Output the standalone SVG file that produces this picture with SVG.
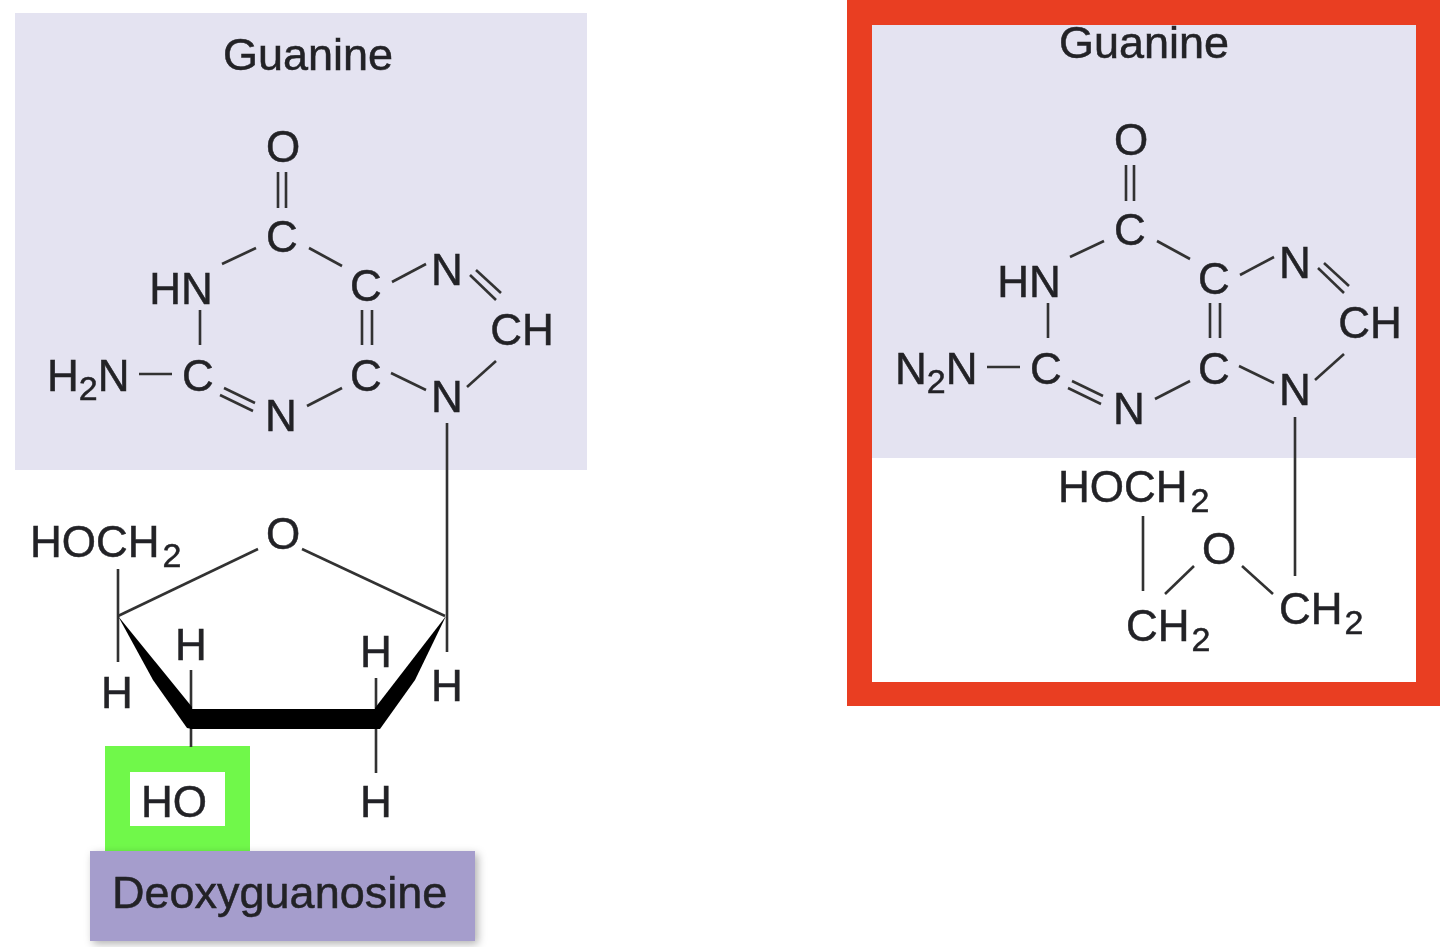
<svg xmlns="http://www.w3.org/2000/svg" width="1440" height="947" viewBox="0 0 1440 947">
<style>
text{font-family:"Liberation Sans",Arial,sans-serif;font-size:44px;fill:#222226;stroke:#222226;stroke-width:0.5;text-anchor:middle}
.s{font-size:34px}
.st{text-anchor:start}
.b line{stroke:#333;stroke-width:2.6;stroke-linecap:butt}
.panel{fill:#e4e3f1}
</style>
<defs>
<filter id="soft" x="-5%" y="-5%" width="110%" height="110%"><feGaussianBlur stdDeviation="0.7"/></filter>
<filter id="shadow" x="-5%" y="-15%" width="112%" height="135%"><feDropShadow dx="3" dy="3" stdDeviation="4" flood-color="#000" flood-opacity="0.3"/></filter>
<g id="ringbonds" class="b">
<line x1="278" y1="172" x2="278" y2="208"/><line x1="286" y1="172" x2="286" y2="208"/>
<line x1="222" y1="264" x2="256" y2="248"/>
<line x1="309" y1="248" x2="342" y2="266"/>
<line x1="392" y1="282" x2="426" y2="264"/>
<line x1="470" y1="275" x2="496" y2="300"/><line x1="476" y1="270" x2="501" y2="293"/>
<line x1="200" y1="310" x2="200" y2="345"/>
<line x1="362" y1="310" x2="362" y2="345"/><line x1="372" y1="310" x2="372" y2="345"/>
<line x1="139" y1="374" x2="172" y2="374"/>
<line x1="220" y1="395" x2="253" y2="411"/><line x1="224" y1="388" x2="255" y2="403"/>
<line x1="307" y1="406" x2="342" y2="388"/>
<line x1="391" y1="373" x2="426" y2="390"/>
<line x1="467" y1="387" x2="496" y2="361"/>
</g>
</defs>
<rect width="1440" height="947" fill="#fff"/>
<g id="left-panel"><rect class="panel" x="15" y="13" width="572" height="457"/></g>
<rect id="right-frame" x="847" y="0" width="593" height="706" fill="#e93e22"/>
<rect x="872" y="25" width="544" height="657" fill="#fff"/>
<rect class="panel" x="872" y="25" width="544" height="433"/>
<g id="ho-highlight"><rect x="105" y="746" width="145" height="106" fill="#70f84a"/><rect x="130" y="772" width="95" height="54" fill="#fff"/></g>
<g filter="url(#soft)">
<g id="connectors" class="b">
<use href="#ringbonds"/>
<use href="#ringbonds" transform="translate(848,-7)"/>
<line x1="447" y1="423" x2="447" y2="652"/>
<line x1="118" y1="569" x2="118" y2="662"/>
<line x1="118" y1="616" x2="258" y2="549"/>
<line x1="302" y1="549" x2="445" y2="616"/>
<line x1="191" y1="670" x2="191" y2="747"/>
<line x1="376" y1="678" x2="376" y2="773"/>
<polygon points="118,616 192,707 192,729 187,728 153,680" fill="#000"/>
<rect x="190" y="709" width="187" height="20" fill="#000"/>
<polygon points="446,616 375,708 375,729 380,729 415,680" fill="#000"/>
<line x1="1295" y1="417" x2="1295" y2="576"/>
<line x1="1143" y1="516" x2="1143" y2="591"/>
<line x1="1165" y1="594" x2="1194" y2="566"/>
<line x1="1242" y1="566" x2="1273" y2="594"/>
</g>
<g id="guanine-left">
<g id="l-title"><text x="308" y="70" style="font-size:45px">Guanine</text></g>
<g id="l-o"><text x="283" y="162">O</text></g>
<g id="l-c1"><text x="282" y="252">C</text></g>
<g id="l-hn"><text x="181" y="304">HN</text></g>
<g id="l-c2"><text x="366" y="301">C</text></g>
<g id="l-n1"><text x="447" y="285">N</text></g>
<g id="l-ch"><text x="522" y="345">CH</text></g>
<g id="l-h2n"><text class="st" x="47" y="391">H<tspan class="s" dy="9">2</tspan><tspan dy="-9">N</tspan></text></g>
<g id="l-c3"><text x="198" y="391">C</text></g>
<g id="l-n2"><text x="281" y="431">N</text></g>
<g id="l-c4"><text x="366" y="391">C</text></g>
<g id="l-n3"><text x="447" y="412">N</text></g>
</g>
<g id="sugar-left">
<g id="s-hoch2"><text class="st" x="30" y="557">HOCH<tspan class="s" dx="3" dy="10">2</tspan></text></g>
<g id="s-o"><text x="283" y="549">O</text></g>
<g id="s-h1"><text x="191" y="660">H</text></g>
<g id="s-h2"><text x="117" y="708">H</text></g>
<g id="s-h3"><text x="376" y="667">H</text></g>
<g id="s-h4"><text x="447" y="701">H</text></g>
<g id="s-h5"><text x="376" y="817">H</text></g>
<g id="s-ho"><text x="174" y="817">HO</text></g>
</g>
<g id="guanine-right">
<g id="r-title"><text x="1144" y="58" style="font-size:45px">Guanine</text></g>
<g id="r-o"><text x="1131" y="155">O</text></g>
<g id="r-c1"><text x="1130" y="245">C</text></g>
<g id="r-hn"><text x="1029" y="297">HN</text></g>
<g id="r-c2"><text x="1214" y="294">C</text></g>
<g id="r-n1"><text x="1295" y="278">N</text></g>
<g id="r-ch"><text x="1370" y="338">CH</text></g>
<g id="r-n2n"><text class="st" x="895" y="384">N<tspan class="s" dy="9">2</tspan><tspan dy="-9">N</tspan></text></g>
<g id="r-c3"><text x="1046" y="384">C</text></g>
<g id="r-n2"><text x="1129" y="424">N</text></g>
<g id="r-c4"><text x="1214" y="384">C</text></g>
<g id="r-n3"><text x="1295" y="405">N</text></g>
<g id="r-hoch2"><text class="st" x="1058" y="502">HOCH<tspan class="s" dx="3" dy="10">2</tspan></text></g>
<g id="r-o2"><text x="1219" y="564">O</text></g>
<g id="r-ch2a"><text class="st" x="1126" y="641">CH<tspan class="s" dx="2" dy="10">2</tspan></text></g>
<g id="r-ch2b"><text class="st" x="1279" y="624">CH<tspan class="s" dx="2" dy="10">2</tspan></text></g>
</g>
</g>
<g id="deoxyguanosine"><rect x="90" y="851" width="385" height="90" fill="#a59dcc" filter="url(#shadow)"/><text class="st" x="112" y="908" style="font-size:45px" filter="url(#soft)">Deoxyguanosine</text></g>
</svg>
